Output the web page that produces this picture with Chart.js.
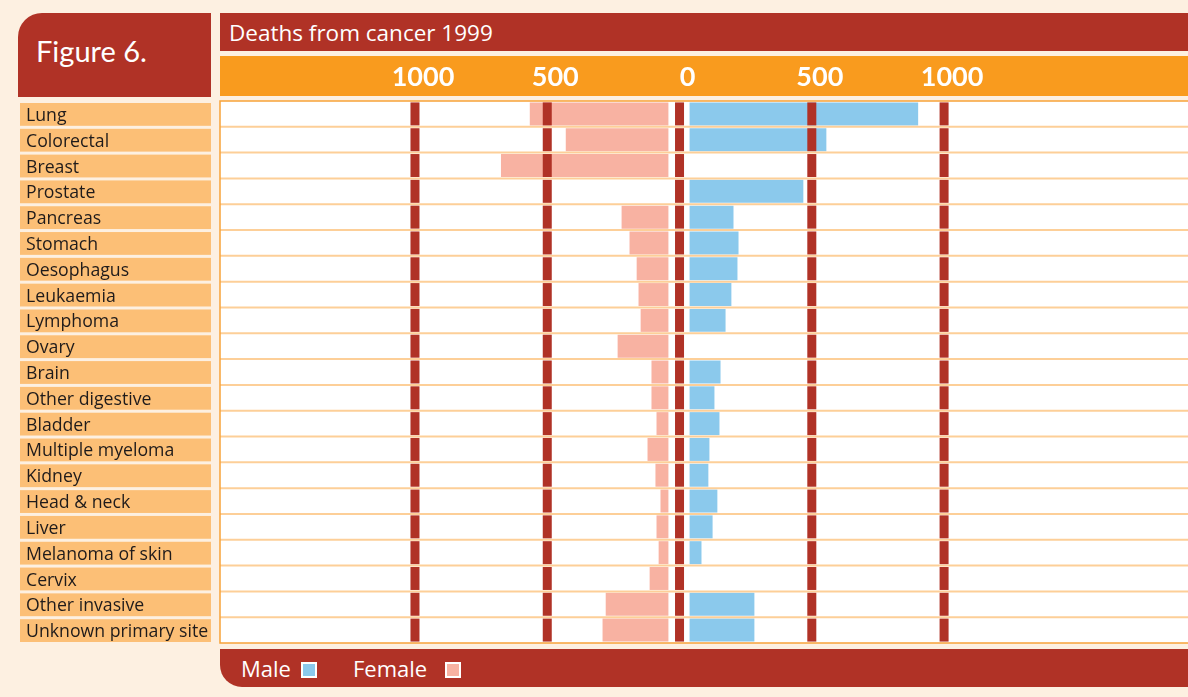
<!DOCTYPE html>
<html>
<head>
<meta charset="UTF-8" />
<title>Deaths from cancer 1999</title>
<style>
  body { margin: 0; background: #fdf0e1; font-family: "Open Sans", sans-serif; }
  #page { position: relative; width: 1188px; height: 697px; overflow: hidden; }
  .red { position: absolute; background: #b03226; color: #fff; }
  #fig { left: 18px; top: 13px; width: 193px; height: 84px; border-top-left-radius: 24px; }
  #fig span { position: absolute; left: 18px; top: 20px; font-size: 29px; font-family: Lato, sans-serif; }
  #title { left: 220px; top: 13px; width: 968px; height: 38px; }
  #title span { position: absolute; left: 9px; top: 4px; font-size: 22.5px; }
  #scalebar { position: absolute; left: 220px; top: 56px; width: 968px; height: 40px; background: #f99b1e; }
  #legend { left: 220px; top: 649px; width: 968px; height: 38px; border-bottom-left-radius: 22px; font-size: 22px; }
  #legend span { position: absolute; top: 4px; }
  #legend i { position: absolute; top: 13px; width: 12px; height: 12px; border: 2px solid #fff; }
  canvas { position: absolute; left: 0; top: 0; }
</style>
</head>
<body>
<div id="page">
  <div class="red" id="fig"><span>Figure 6.</span></div>
  <div class="red" id="title"><span>Deaths from cancer 1999</span></div>
  <div id="scalebar"></div>
  <div class="red" id="legend">
    <span style="left: 21px;">Male</span><i style="left: 81px; background: #8bc9ec;"></i>
    <span style="left: 133px;">Female</span><i style="left: 225px; background: #f8b2a2;"></i>
  </div>
  <canvas id="chart" width="1188" height="697"></canvas>
</div>
<script src="https://cdn.jsdelivr.net/npm/chart.js"></script>
<script>
  const categories = ['Lung', 'Colorectal', 'Breast', 'Prostate', 'Pancreas', 'Stomach', 'Oesophagus',
    'Leukaemia', 'Lymphoma', 'Ovary', 'Brain', 'Other digestive', 'Bladder', 'Multiple myeloma',
    'Kidney', 'Head & neck', 'Liver', 'Melanoma of skin', 'Cervix', 'Other invasive', 'Unknown primary site'];

  const male = [902, 555, null, 468, 204, 223, 219, 196, 174, null, 155, 132, 151, 113,
    109, 143, 125, 83, null, 283, 283];

  const female = [566, 430, 675, 0, 219, 189, 162, 155, 147, 234, 106, 106, 87, 121,
    91, 72, 87, 79, 113, 279, 291];

  const tickValues = [-1000, -500, 0, 500, 1000];
  const tickLabels = ['1000', '500', '0', '500', '1000'];

  const BAR_FRACTION = 0.89;

  const decor = {
    id: 'decor',
    beforeDatasetsDraw(chart) {
      const { ctx, chartArea: a, scales: { x, y } } = chart;
      const rowH = (a.bottom - a.top) / categories.length;
      ctx.save();
      ctx.fillStyle = '#fff';
      ctx.fillRect(a.left, a.top, a.right - a.left, a.bottom - a.top);

      // category label boxes on the left
      ctx.font = '17.7px "Open Sans"';
      ctx.textBaseline = 'middle';
      categories.forEach((c, i) => {
        const cy = y.getPixelForValue(i);
        ctx.fillStyle = '#fcbf76';
        ctx.fillRect(20, cy - rowH / 2 + 2, 191, rowH - 3);
        ctx.fillStyle = '#1f1b1b';
        ctx.fillText(c, 26, cy + 2);
      });

      // scale labels in the orange band
      ctx.font = 'bold 27px Lato';
      ctx.textAlign = 'center';
      ctx.fillStyle = '#fff';
      tickValues.forEach((v, i) => {
        ctx.fillText(tickLabels[i], x.getPixelForValue(v) + 8, 77);
      });
      ctx.restore();
    },
    afterDatasetsDraw(chart) {
      const { ctx, chartArea: a, scales: { x } } = chart;
      const rowH = (a.bottom - a.top) / categories.length;
      ctx.save();
      // row separators
      ctx.strokeStyle = '#fdcf98';
      ctx.lineWidth = 2;
      for (let i = 1; i < categories.length; i++) {
        const yy = a.top + i * rowH;
        ctx.beginPath();
        ctx.moveTo(a.left, yy);
        ctx.lineTo(a.right, yy);
        ctx.stroke();
      }
      // thick red grid marks, broken at every row
      ctx.fillStyle = '#b03226';
      const segH = rowH * BAR_FRACTION;
      for (let i = 0; i < categories.length; i++) {
        const top = a.top + i * rowH + (rowH - segH) / 2;
        tickValues.forEach(v => {
          ctx.fillRect(x.getPixelForValue(v) - 4.5, top, 9, segH);
        });
      }
      ctx.strokeStyle = '#f7a238';
      ctx.lineWidth = 1.5;
      ctx.strokeRect(a.left, a.top, a.right - a.left + 5, a.bottom - a.top);
      ctx.restore();
    }
  };

  new Chart(document.getElementById('chart'), {
    type: 'bar',
    data: {
      labels: categories,
      datasets: [{
        label: 'Male',
        data: male,
        base: 38,
        backgroundColor: '#8bc9ec',
        grouped: false
      }, {
        label: 'Female',
        data: female.map(v => v ? -v : null),
        base: -42,
        backgroundColor: '#f8b2a2',
        grouped: false
      }]
    },
    options: {
      indexAxis: 'y',
      responsive: false,
      animation: false,
      layout: { padding: { left: 220, top: 101, right: 0, bottom: 54 } },
      datasets: { bar: { barPercentage: BAR_FRACTION, categoryPercentage: 1 } },
      plugins: { legend: { display: false }, tooltip: { enabled: false } },
      scales: {
        x: { type: 'linear', min: -1737, max: 1922, display: false },
        y: { display: false }
      }
    },
    plugins: [decor]
  });
</script>
</body>
</html>
